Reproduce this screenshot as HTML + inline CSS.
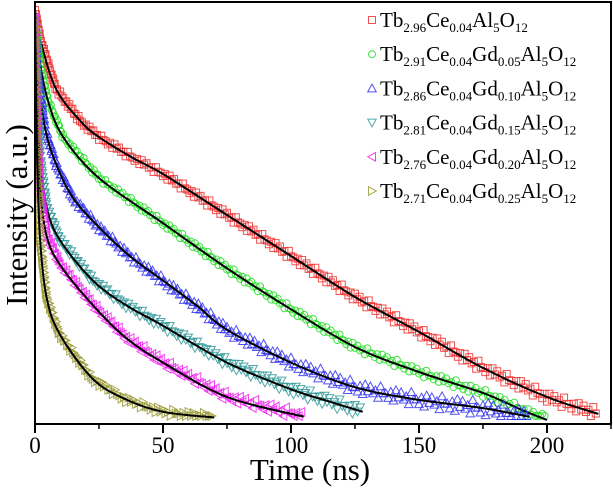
<!DOCTYPE html>
<html><head><meta charset="utf-8"><style>
body{margin:0;background:#fff}
svg{display:block;font-family:"Liberation Serif",serif}
</style></head><body>
<svg id="chart" width="613" height="498" viewBox="0 0 613 498" xmlns="http://www.w3.org/2000/svg">
<defs><clipPath id="pc"><rect x="36" y="3" width="574" height="420"/></clipPath></defs>
<rect x="35" y="2" width="576" height="422" fill="none" stroke="#000" stroke-width="2"/>
<g id="ticks"></g>
<g id="series" clip-path="url(#pc)"></g>
<g id="legend"></g>
<text x="310" y="480" font-size="31" text-anchor="middle">Time (ns)</text>
<text transform="translate(27,215) rotate(-90)" font-size="31" text-anchor="middle">Intensity (a.u.)</text>
</svg>
<script>
const xTicks=[0,50,100,150,200];
const xMinor=[25,75,125,175,225];
const tRed=[0,2,8,17.6,25,38,50,75,100,125,150,175,200,220];
const iRed=[1.0,0.93,0.81,0.73,0.69,0.64,0.60,0.50,0.40,0.30,0.215,0.127,0.056,0.015];
const tGreen=[0,2,5,11,25,50,75,100,125,150,175,190,200];
const iGreen=[0.98,0.87,0.78,0.69,0.59,0.48,0.37,0.27,0.178,0.117,0.066,0.025,0.0];
const tBlue=[0,1,4,8.5,15,25,37,50,63,75,100,125,150,175,193];
const iBlue=[0.98,0.85,0.71,0.62,0.54,0.47,0.40,0.34,0.28,0.22,0.14,0.08,0.049,0.029,0.008];
const tTeal=[0,1,2,4.5,9.6,22.6,35.6,50,75,100,115,128];
const iTeal=[0.98,0.78,0.64,0.52,0.44,0.34,0.28,0.23,0.14,0.075,0.045,0.02];
const tMag=[0,0.8,2,4.5,9.6,22.6,35.6,50,75,105];
const iMag=[0.98,0.72,0.56,0.45,0.38,0.28,0.20,0.14,0.056,0.008];
const tOlive=[0,0.8,2,4.5,9.6,22.6,35.6,50,70];
const iOlive=[0.98,0.65,0.44,0.30,0.21,0.10,0.05,0.02,0.006];

const NS="http://www.w3.org/2000/svg";
const X=t=>35+t*2.56;
const Y=v=>420-v*410;
function mk(tag,attrs,parent){const e=document.createElementNS(NS,tag);for(const k in attrs)e.setAttribute(k,attrs[k]);parent.appendChild(e);return e;}
const tg=document.getElementById('ticks');
xTicks.forEach(t=>{
 const l=mk('line',{x1:X(t),x2:X(t),y1:424,y2:433,stroke:'#000','stroke-width':2},tg);
 
 
 const tx=mk('text',{x:X(t),y:453,'font-size':23,'text-anchor':'middle'},tg);
 tx.textContent=t;
 
 
});
xMinor.forEach(t=>{
 const l=mk('line',{x1:X(t),x2:X(t),y1:424,y2:429,stroke:'#000','stroke-width':1.5},tg);
 
 
});
function marker(type,x,y,color,parent){
 const s=3.5;let e;
 if(type==='sq')e=mk('rect',{x:x-s,y:y-s,width:2*s,height:2*s},parent);
 else if(type==='ci')e=mk('circle',{cx:x,cy:y,r:s},parent);
 else{let p;const a=s+0.8;
  if(type==='up')p=[[x,y-a],[x-a,y+s],[x+a,y+s]];
  if(type==='dn')p=[[x,y+a],[x-a,y-s],[x+a,y-s]];
  if(type==='lf')p=[[x-a,y],[x+s,y-a],[x+s,y+a]];
  if(type==='rt')p=[[x+a,y],[x-s,y-a],[x-s,y+a]];
  e=mk('polygon',{points:p.map(q=>q.join(',')).join(' ')},parent);}
 e.setAttribute('fill','none');e.setAttribute('stroke',color);e.setAttribute('stroke-width','1');
 e.setAttribute('stroke-opacity','0.85');
 return e;
}
function smoothPath(P){
 let d='M'+P[0][0].toFixed(1)+','+P[0][1].toFixed(1);
 for(let i=0;i<P.length-1;i++){
  const p0=P[i-1]||P[i],p1=P[i],p2=P[i+1],p3=P[i+2]||p2;
  const c1=[p1[0]+(p2[0]-p0[0])/6,p1[1]+(p2[1]-p0[1])/6];
  const c2=[p2[0]-(p3[0]-p1[0])/6,p2[1]-(p3[1]-p1[1])/6];
  d+=' C'+c1[0].toFixed(1)+','+c1[1].toFixed(1)+' '+c2[0].toFixed(1)+','+c2[1].toFixed(1)+' '+p2[0].toFixed(1)+','+p2[1].toFixed(1);
 }
 return d;
}
const sers=[
 {t:tRed,v:iRed,c:'#ee3333',m:'sq',n:'red-series',amp:1.2},
 {t:tGreen,v:iGreen,c:'#22dd22',m:'ci',n:'green-series',amp:0.8},
 {t:tBlue,v:iBlue,c:'#3333ee',m:'up',n:'blue-series',amp:2.5},
 {t:tTeal,v:iTeal,c:'#339999',m:'dn',n:'teal-series',amp:2.2},
 {t:tMag,v:iMag,c:'#ee22ee',m:'lf',n:'magenta-series',amp:2.2},
 {t:tOlive,v:iOlive,c:'#999933',m:'rt',n:'olive-series',amp:1.5}];
const jit=[0,1.6,-1,2.2,-2,0.6,-1.6,1,-0.4,2.4,-2.4,0.2];
const sg=document.getElementById('series');
sers.forEach(s=>{
 const g=mk('g',{},sg);
 
 
 let cnt=0;
 for(let i=0;i<s.t.length-1;i++){
  const x0=X(s.t[i]),y0=Y(s.v[i]),x1=X(s.t[i+1]),y1=Y(s.v[i+1]);
  const len=Math.hypot(x1-x0,y1-y0);const n=Math.max(1,Math.round(len/2.6));
  for(let k=0;k<n;k++){const f=k/n;
   const x=x0+(x1-x0)*f;
   const off=jit[cnt%jit.length]*(1+(x-35)/575*s.amp);cnt++;
   const m=marker(s.m,x,Math.min(y0+(y1-y0)*f+off,416),s.c,g);
   
   }
 }
 const P=s.t.map((t,i)=>[X(t),Y(s.v[i])]);
 const fl=mk('path',{d:smoothPath(P),fill:'none',stroke:'#000','stroke-width':2},g);
 
 
});
const lg=document.getElementById('legend');
const labels=[
 [["Tb",""],["2.96","s"],["Ce",""],["0.04","s"],["Al",""],["5","s"],["O",""],["12","s"]],
 [["Tb",""],["2.91","s"],["Ce",""],["0.04","s"],["Gd",""],["0.05","s"],["Al",""],["5","s"],["O",""],["12","s"]],
 [["Tb",""],["2.86","s"],["Ce",""],["0.04","s"],["Gd",""],["0.10","s"],["Al",""],["5","s"],["O",""],["12","s"]],
 [["Tb",""],["2.81","s"],["Ce",""],["0.04","s"],["Gd",""],["0.15","s"],["Al",""],["5","s"],["O",""],["12","s"]],
 [["Tb",""],["2.76","s"],["Ce",""],["0.04","s"],["Gd",""],["0.20","s"],["Al",""],["5","s"],["O",""],["12","s"]],
 [["Tb",""],["2.71","s"],["Ce",""],["0.04","s"],["Gd",""],["0.25","s"],["Al",""],["5","s"],["O",""],["12","s"]]];
sers.forEach((s,i)=>{
 const y=20+i*34.2;
 const g=mk('g',{},lg);
 
 
 marker(s.m,372,y,s.c,g);
 const tx=mk('text',{x:380,y:y+7,'font-size':21},g);
 labels[i].forEach(p=>{const sp=mk('tspan',{},tx);sp.textContent=p[0];
  if(p[1]==='s'){sp.setAttribute('font-size','13');sp.setAttribute('dy','5');}
  else if(tx.childNodes.length>1){sp.setAttribute('dy','-5');}
 });
});
</script>
</body></html>
